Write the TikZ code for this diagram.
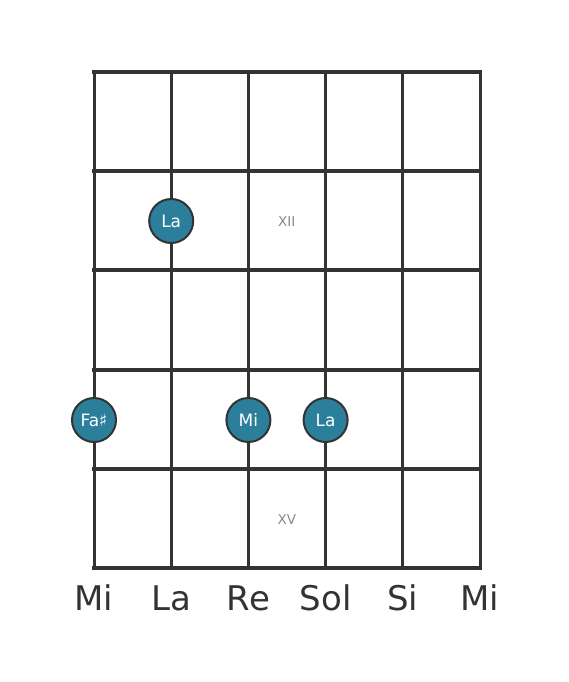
\documentclass[tikz,border=0pt]{standalone}
\usepackage{fontspec}
\setmainfont{DejaVu Sans}
\definecolor{linegray}{HTML}{333333}
\definecolor{dotteal}{HTML}{2B7F9B}
\definecolor{fretnum}{HTML}{888888}
\begin{document}
\begin{tikzpicture}[x=1pt,y=-1pt,
  stringline/.style={draw=linegray,line width=3pt},
  fretline/.style={draw=linegray,line width=4pt,line cap=rect},
  notedot/.style={circle,fill=dotteal,draw=linegray,line width=2pt,minimum size=44pt,inner sep=0pt,text=white,font=\fontsize{17}{17}\selectfont},
  fretlabel/.style={text=fretnum,font=\fontsize{13.5}{13.5}\selectfont},
  strlabel/.style={text=linegray,font=\fontsize{34}{34}\selectfont}]
\useasboundingbox (0,0) rectangle (568,682);
% strings
\foreach \i/\x in {1/94,2/171.2,3/248.4,4/325.6,5/402.8,6/480}{
  \coordinate (st\i) at (\x,72);
  \coordinate (sb\i) at (\x,568);
  \draw[stringline] (st\i) -- (sb\i);
}
% frets
\foreach \j/\y in {0/72,1/171.2,2/270.4,3/369.6,4/468.8,5/568}{
  \coordinate (fl\j) at (94,\y);
  \coordinate (fr\j) at (480,\y);
  \draw[fretline] (fl\j) -- (fr\j);
}
% fret numbers
\node[fretlabel] (f12) at (286.8,222) {XII};
\node[fretlabel] (f15) at (286.8,520) {XV};
% notes
\node[notedot] (n1) at (171.2,221) {La};
\node[notedot] (n2) at (94,420) {Fa♯};
\node[notedot] (n3) at (248.4,420) {Mi};
\node[notedot] (n4) at (325.6,420) {La};
% string names
\node[strlabel] (l1) at (94,598) {Mi};
\node[strlabel] (l2) at (171.2,598) {La};
\node[strlabel] (l3) at (248.4,598) {Re};
\node[strlabel] (l4) at (325.6,598) {Sol};
\node[strlabel] (l5) at (402.8,598) {Si};
\node[strlabel] (l6) at (480,598) {Mi};
\end{tikzpicture}
\end{document}
